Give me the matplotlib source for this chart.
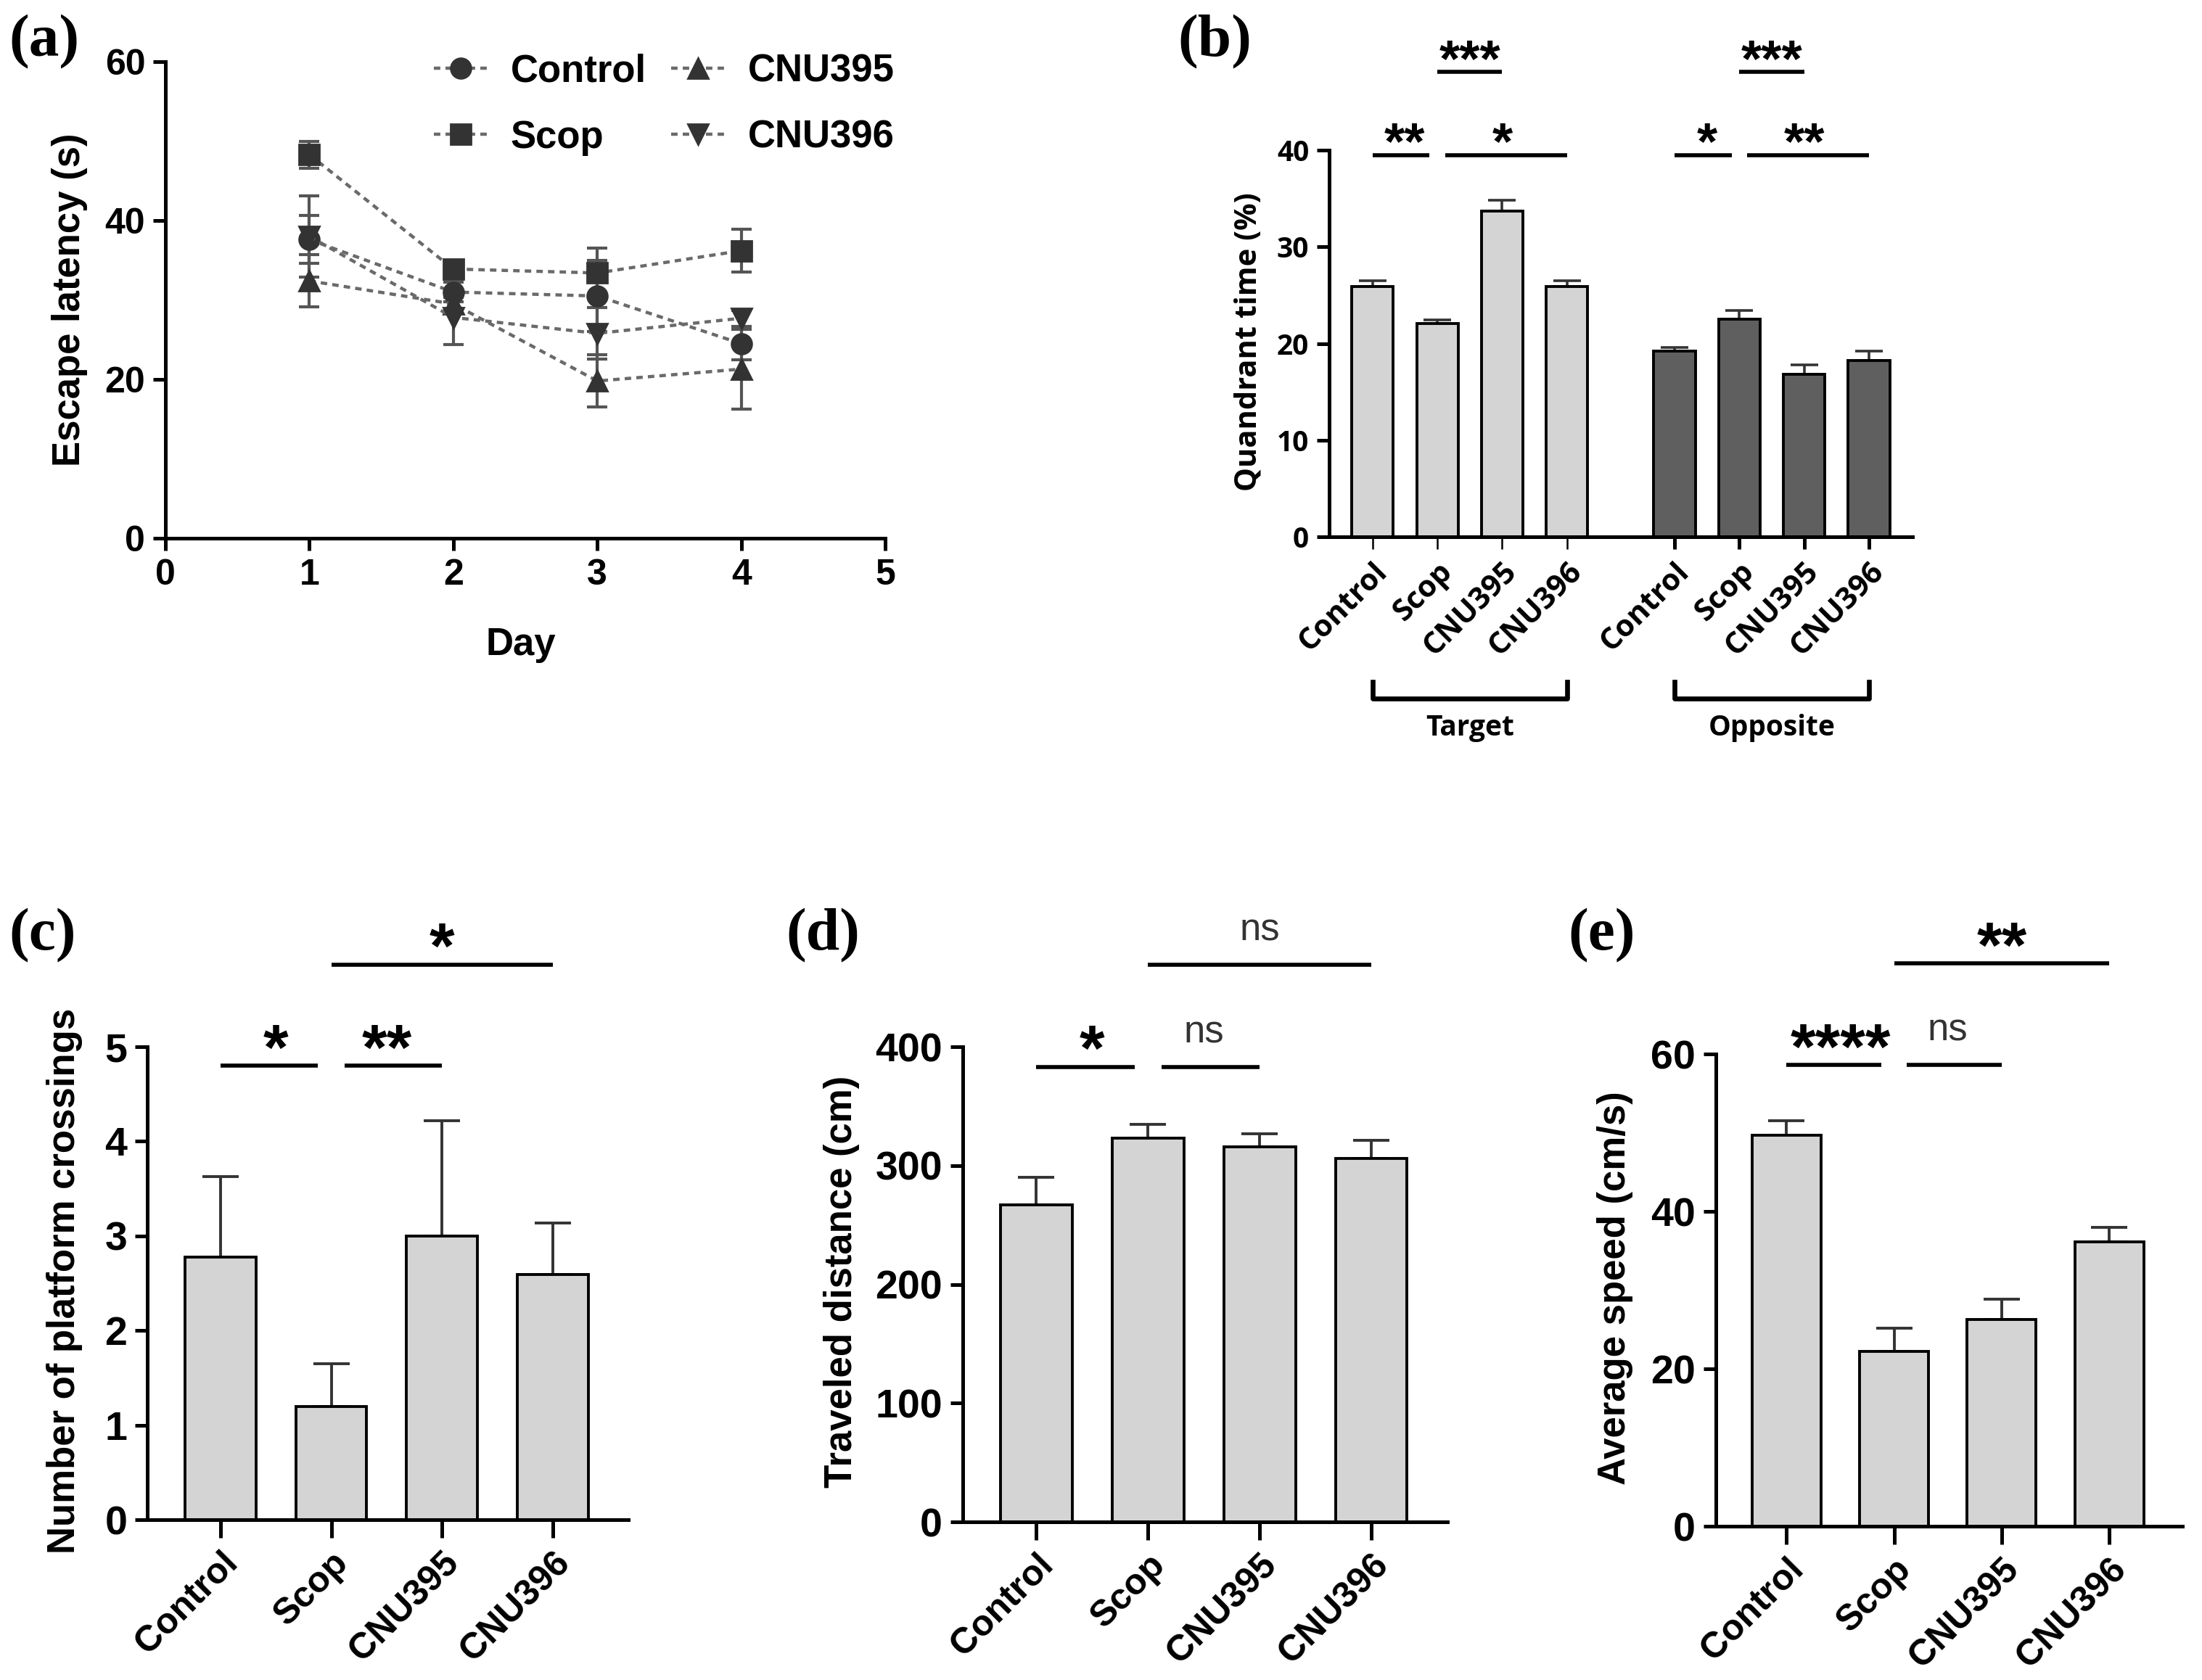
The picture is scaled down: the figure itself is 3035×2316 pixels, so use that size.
import matplotlib
matplotlib.use("Agg")
import matplotlib.pyplot as plt

groups = ["Control", "Scop", "CNU395", "CNU396"]

# (a) escape latency per training day (mean, SEM)
days = [1, 2, 3, 4]
lat_control = [37.6, 31.0, 30.5, 24.5]
lat_control_err = [3.0, 1.2, 4.5, 2.0]
lat_scop = [48.3, 33.9, 33.4, 36.2]
lat_scop_err = [1.7, 1.0, 3.1, 2.7]
lat_cnu395 = [32.4, 29.5, 19.8, 21.3]
lat_cnu395_err = [3.3, 0.8, 3.3, 5.0]
lat_cnu396 = [38.0, 27.8, 25.8, 27.7]
lat_cnu396_err = [5.1, 3.4, 3.2, 1.0]

# (b) quadrant time (%)
target_time = [25.9, 22.1, 33.7, 25.9]
target_err = [0.6, 0.35, 1.1, 0.6]
opposite_time = [19.2, 22.5, 16.8, 18.2]
opposite_err = [0.4, 0.9, 1.0, 1.0]

# (c) platform crossings
crossings = [2.78, 1.20, 3.00, 2.59]
crossings_err = [0.85, 0.45, 1.22, 0.55]

# (d) traveled distance (cm)
distance = [267, 323, 316, 306]
distance_err = [23, 12, 11, 15]

# (e) average speed (cm/s)
speed = [49.7, 22.2, 26.3, 36.1]
speed_err = [1.8, 3.0, 2.6, 1.9]

# significance: (group i, group j, label, level)
sig_b_target = [(0, 1, "**", 0), (1, 3, "*", 0), (1, 2, "***", 1)]
sig_b_opposite = [(0, 1, "*", 0), (1, 3, "**", 0), (1, 2, "***", 1)]
sig_c = [(0, 1, "*", 0), (1, 2, "**", 0), (1, 3, "*", 1)]
sig_d = [(0, 1, "*", 0), (1, 2, "ns", 0), (1, 3, "ns", 1)]
sig_e = [(0, 1, "****", 0), (1, 2, "ns", 0), (1, 3, "**", 1)]

SANS = ["Liberation Sans", "DejaVu Sans"]
SANS_B = ["Open Sans", "Liberation Sans", "DejaVu Sans"]
LIGHT = "#d4d4d4"
DARK = "#5f5f5f"
SPINE_W = 1.8

plt.rcParams["font.family"] = SANS
plt.rcParams["font.weight"] = "bold"

fig = plt.figure(figsize=(15.175, 11.58), dpi=200)


def style_axes(ax, tick_size, family=SANS):
    for s in ["top", "right"]:
        ax.spines[s].set_visible(False)
    for s in ["left", "bottom"]:
        ax.spines[s].set_linewidth(SPINE_W)
    ax.tick_params(width=SPINE_W, length=6, labelsize=tick_size, pad=4)
    for lab in ax.get_xticklabels() + ax.get_yticklabels():
        lab.set_family(family)
        lab.set_fontweight("bold")


def draw_sig(ax, comps, offset, levels, star_size, ns_size, text_gap, shrink=0.12):
    for i, j, label, lev in comps:
        same = [c for c in comps if c[3] == lev]
        x0 = i + offset
        x1 = j + offset
        if any(c[1] == i for c in same):
            x0 += shrink
        if any(c[0] == j for c in same):
            x1 -= shrink
        y = levels[lev]
        ax.plot([x0, x1], [y, y], color="black", lw=2.0, clip_on=False,
                solid_capstyle="butt")
        if label == "ns":
            ax.annotate(label, xy=((i + j) / 2 + offset, y), xytext=(0, text_gap - 0.26 * ns_size),
                        textcoords="offset points", ha="center", va="baseline",
                        fontsize=ns_size, fontweight="normal", color="#333333",
                        family=SANS, annotation_clip=False)
        else:
            ax.annotate(label, xy=((i + j) / 2 + offset, y), xytext=(0, text_gap - 0.58 * star_size),
                        textcoords="offset points", ha="center", va="baseline",
                        fontsize=star_size, fontweight="bold", color="black",
                        family=SANS, annotation_clip=False)


# ---------------- (a) ----------------
ax = fig.add_axes([0.0751, 0.6796, 0.3269, 0.2837])
series = [
    ("Control", lat_control, lat_control_err, "o"),
    ("Scop", lat_scop, lat_scop_err, "s"),
    ("CNU395", lat_cnu395, lat_cnu395_err, "^"),
    ("CNU396", lat_cnu396, lat_cnu396_err, "v"),
]
for name, vals, errs, mk in series:
    ax.errorbar(days, vals, yerr=errs, fmt="none", ecolor="#555555",
                elinewidth=1.5, capsize=5, capthick=1.5, zorder=2)
    ax.plot(days, vals, linestyle=(0, (2, 1.6)), color="#6a6a6a", lw=1.6,
            marker=mk, markersize=10, markerfacecolor="#333333",
            markeredgecolor="#333333", label=name, zorder=3)
ax.set_xlim(0, 5)
ax.set_ylim(0, 60)
ax.set_xticks([0, 1, 2, 3, 4, 5])
ax.set_yticks([0, 20, 40, 60])
style_axes(ax, 18)
ax.set_xlabel("Day", fontsize=19, fontweight="bold")
ax.set_ylabel("Escape latency (s)", fontsize=19, fontweight="bold")
ax.xaxis.set_label_coords(0.494, -0.185)
ax.yaxis.set_label_coords(-0.108, 0.5)
leg = ax.legend(ncol=2, frameon=False, loc="upper left", bbox_to_anchor=(0.325, 1.09),
                fontsize=19, handlelength=1.4, columnspacing=0.65, handletextpad=0.6,
                labelspacing=0.78)
for t in leg.get_texts():
    t.set_fontweight("bold")

# ---------------- (b) ----------------
ax = fig.add_axes([0.6036, 0.6805, 0.2649, 0.2301])
gap = 4.66
pos_t = [k for k in range(4)]
pos_o = [k + gap for k in range(4)]
ax.bar(pos_t, target_time, width=0.64, color=LIGHT, edgecolor="black", lw=1.4, zorder=2)
ax.bar(pos_o, opposite_time, width=0.64, color=DARK, edgecolor="black", lw=1.4, zorder=2)
ax.errorbar(pos_t, target_time, yerr=[[0] * 4, target_err], fmt="none", ecolor="#333333",
            elinewidth=1.3, capsize=7, capthick=1.3, zorder=1)
ax.errorbar(pos_o, opposite_time, yerr=[[0] * 4, opposite_err], fmt="none", ecolor="#333333",
            elinewidth=1.3, capsize=7, capthick=1.3, zorder=1)
ax.set_xlim(-0.67, 3 + gap + 0.67)
ax.set_ylim(0, 40)
ax.set_yticks([0, 10, 20, 30, 40])
ax.set_xticks(pos_o)
ax.set_xticklabels(groups, rotation=45, ha="right", rotation_mode="anchor")
ax.set_xticks(pos_t, minor=True)
ax.set_xticklabels(groups, minor=True, rotation=45, ha="right", rotation_mode="anchor")
style_axes(ax, 14, SANS_B)
ax.tick_params(axis="x", which="both", labelsize=15)
ax.tick_params(axis="x", which="minor", width=0.9, length=6, pad=4)
for lab in ax.get_xticklabels(minor=True):
    lab.set_family(SANS_B)
    lab.set_fontweight("bold")
ax.set_ylabel("Quandrant time (%)", fontsize=15, fontweight="bold", family=SANS_B)
ax.yaxis.set_label_coords(-0.113, 0.505)
draw_sig(ax, sig_b_target, 0, [39.5, 48.1], 26, 16, 13)
draw_sig(ax, sig_b_opposite, gap, [39.5, 48.1], 26, 16, 13)
trans = ax.get_xaxis_transform()
for (a0, a1, name) in [(pos_t[0], pos_t[-1], "Target"), (pos_o[0], pos_o[-1], "Opposite")]:
    ax.plot([a0, a0, a1, a1], [-0.375, -0.418, -0.418, -0.375], transform=trans,
            color="black", lw=2.4, clip_on=False)
    ax.text((a0 + a1) / 2, -0.495, name, transform=trans, ha="center", va="center",
            fontsize=14, fontweight="bold", family=SANS_B)


# ---------------- (c), (d), (e) ----------------
def bar_panel(rect, vals, errs, ymax, ystep, ylabel, label_x, comps, levels):
    ax = fig.add_axes(rect)
    x = list(range(len(groups)))
    ax.bar(x, vals, width=0.64, color=LIGHT, edgecolor="black", lw=1.4, zorder=2)
    ax.errorbar(x, vals, yerr=[[0] * len(vals), errs], fmt="none", ecolor="#333333",
                elinewidth=1.4, capsize=9, capthick=1.4, zorder=1)
    ax.set_xlim(-0.66, 3.68)
    ax.set_ylim(0, ymax)
    ax.set_yticks(list(range(0, ymax + 1, ystep)))
    ax.set_xticks(x)
    ax.set_xticklabels(groups, rotation=45, ha="right", rotation_mode="anchor")
    style_axes(ax, 20)
    ax.tick_params(axis="x", length=9, labelsize=18)
    ax.set_ylabel(ylabel, fontsize=19, fontweight="bold")
    ax.yaxis.set_label_coords(label_x, 0.505)
    draw_sig(ax, comps, 0, levels, 32, 19, 17)
    return ax


bar_panel([0.0669, 0.0954, 0.2184, 0.2815], crossings, crossings_err, 5, 1,
          "Number of platform crossings", -0.135, sig_c, [4.80, 5.87])
bar_panel([0.4372, 0.0941, 0.2201, 0.2828], distance, distance_err, 400, 100,
          "Traveled distance (cm)", -0.212, sig_d, [383, 469])
bar_panel([0.7791, 0.0915, 0.2120, 0.2811], speed, speed_err, 60, 20,
          "Average speed (cm/s)", -0.176, sig_e, [58.6, 71.5])

# panel letters
for x, y, s in [(0.004, 0.975, "(a)"), (0.535, 0.975, "(b)"), (0.004, 0.443, "(c)"),
                (0.357, 0.443, "(d)"), (0.712, 0.443, "(e)")]:
    fig.text(x, y, s, fontsize=30, fontweight="bold", va="center", ha="left",
             family=["Liberation Serif", "DejaVu Serif"])

fig.savefig("out.png", dpi=200)
